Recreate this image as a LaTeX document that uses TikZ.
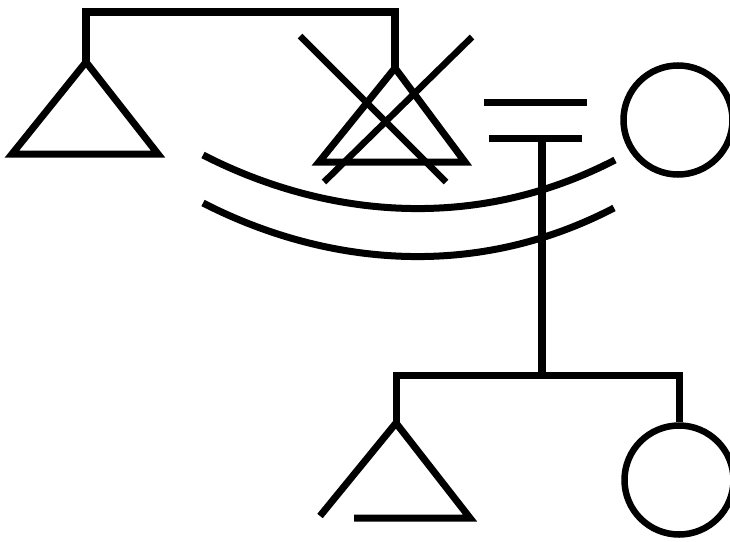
\documentclass[tikz,border=0pt]{standalone}
\usetikzlibrary{positioning}

\begin{document}
\begin{tikzpicture}[
  x=1pt,y=-1pt,
  kin/.style={line width=7pt,line join=miter},
  female/.style={draw,circle,line width=6.5pt,minimum size=109pt,inner sep=0pt},
  marriage/.style={line width=7pt}
]
  \useasboundingbox (0,0) rectangle (730,541);

  % females
  \node[female] (wife) at (678,120) {};
  \node[female] (daughter) at (679,480) {};

  % males (apex and base corners)
  \coordinate (brotherA) at (86,62);
  \coordinate (brotherL) at (12,154);
  \coordinate (brotherR) at (158,154);
  \coordinate (egoA) at (395,68);
  \coordinate (egoL) at (319,162);
  \coordinate (egoR) at (465,162);
  \coordinate (sonA) at (396,423);
  \coordinate (sonL) at (320,516);
  \coordinate (sonB) at (354,518);
  \coordinate (sonR) at (470,518);

  \draw[kin] (brotherL) -- (brotherA) -- (brotherR) -- cycle;
  \draw[kin] (egoL) -- (egoA) -- (egoR) -- cycle;
  \draw[kin] (sonL) -- (sonA) -- (sonR) -- (sonB);

  % deceased
  \draw[kin,line width=6.5pt] (300,36) -- (446,182);
  \draw[kin,line width=6.5pt] (472,37) -- (324,182);

  % siblings
  \draw[kin,line width=8pt] (brotherA) -- (86,12) -| (egoA);

  % marriage
  \coordinate (eqTop) at (484,102);
  \coordinate (eqLow) at (489,138);
  \draw[marriage] (eqTop) -- ++(103,0);
  \draw[marriage] (eqLow) -- ++(93,0);
  \coordinate (descent) at (542,138);
  \coordinate (kids) at (542,375);
  \draw[kin,line width=7.5pt] (descent) -- (kids);

  % children
  \draw[kin] (sonA) |- (kids) -| (daughter.north);

  % separation
  \coordinate (sepA1) at (203,155);
  \coordinate (sepB1) at (615,160);
  \coordinate (sepA2) at (203,203);
  \coordinate (sepB2) at (614,208);
  \draw[kin] (sepA1) .. controls (320,215) and (470,235) .. (sepB1);
  \draw[kin] (sepA2) .. controls (320,263) and (470,283) .. (sepB2);
\end{tikzpicture}
\end{document}
